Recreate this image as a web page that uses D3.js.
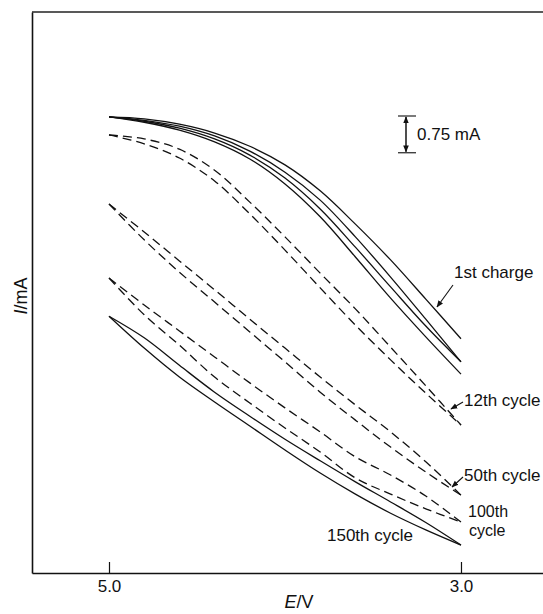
<!DOCTYPE html>
<html><head><meta charset="utf-8">
<script src="https://cdn.jsdelivr.net/npm/d3@7"></script>
<style>
body{margin:0;background:#fff}
svg{display:block}
text{font-family:"Liberation Sans",Arial,Helvetica,sans-serif;fill:#111}
</style>
</head><body>
<svg id="chart" width="543" height="614"></svg>
<script>
// ---- data (E in V, I in mA relative to an arbitrary baseline) ----
const potentials = [5.0, 4.8, 4.6, 4.4, 4.2, 4.0, 3.8, 3.6, 3.4, 3.2, 3.0];
const charge1Up   = [9.31, 9.27, 9.16, 8.98, 8.71, 8.33, 7.80, 7.12, 6.39, 5.59, 4.78];
const charge1Down = [9.31, 9.20, 9.04, 8.80, 8.45, 7.94, 7.27, 6.45, 5.61, 4.82, 4.06];
const cycle2Up    = [9.31, 9.24, 9.12, 8.92, 8.61, 8.18, 7.61, 6.86, 6.04, 5.18, 4.31];
const cycle2Down  = [9.31, 9.22, 9.08, 8.86, 8.53, 8.06, 7.43, 6.65, 5.84, 5.04, 4.31];
const cycle12Up   = [8.94, 8.86, 8.65, 8.22, 7.57, 6.86, 6.12, 5.39, 4.61, 3.82, 3.02];
const cycle12Down = [8.94, 8.76, 8.47, 8.00, 7.33, 6.59, 5.82, 5.06, 4.35, 3.67, 3.02];
const cycle50Up   = [7.53, 6.96, 6.37, 5.78, 5.18, 4.59, 4.00, 3.43, 2.88, 2.27, 1.59];
const cycle50Down = [7.53, 6.80, 6.14, 5.53, 4.92, 4.31, 3.69, 3.12, 2.57, 2.06, 1.59];
const cycle100Up  = [6.02, 5.47, 4.94, 4.41, 3.88, 3.37, 2.88, 2.37, 2.00, 1.57, 1.04];
const cycle100Down= [6.02, 5.27, 4.65, 4.00, 3.47, 2.96, 2.47, 1.94, 1.61, 1.31, 1.04];
const cycle150Up  = [5.24, 4.80, 4.24, 3.69, 3.20, 2.73, 2.29, 1.86, 1.45, 1.03, 0.57];
const cycle150Down= [5.24, 4.59, 4.00, 3.49, 3.00, 2.51, 2.04, 1.61, 1.22, 0.88, 0.57];
const tickValuesE = [5.0, 3.0];
const scaleBarmA  = 0.75;

const branches = [
  {v: charge1Up, dashed: false}, {v: charge1Down, dashed: false},
  {v: cycle2Up, dashed: false},  {v: cycle2Down, dashed: false},
  {v: cycle12Up, dashed: true},  {v: cycle12Down, dashed: true},
  {v: cycle50Up, dashed: true},  {v: cycle50Down, dashed: true},
  {v: cycle100Up, dashed: true}, {v: cycle100Down, dashed: true},
  {v: cycle150Up, dashed: false},{v: cycle150Down, dashed: false}
];

// ---- layout ----
const svg = d3.select("#chart");
const pLeft = 32, pRight = 543, pTop = 12, pBottom = 573;
const x = d3.scaleLinear().domain([5.4375, 2.534]).range([pLeft, pRight]);
const y = d3.scaleLinear().domain([0, 11.45]).range([pBottom, pTop]);

// frame
svg.append("line").attr("x1", pLeft).attr("x2", pRight).attr("y1", pTop).attr("y2", pTop)
  .attr("stroke", "#222").attr("stroke-width", 1.4);

const xAxis = d3.axisBottom(x).tickValues(tickValuesE).tickFormat(d3.format(".1f"))
  .tickSizeInner(-11).tickSizeOuter(0).tickPadding(7);
const gx = svg.append("g").attr("transform", `translate(0,${pBottom})`).call(xAxis);
gx.select(".domain").attr("stroke", "#111").attr("stroke-width", 1.6);
gx.selectAll(".tick line").attr("stroke", "#111").attr("stroke-width", 1.2);
gx.selectAll(".tick text").attr("font-size", 17).attr("fill", "#111")
  .style("font-family", '"Liberation Sans",Arial,sans-serif');

const yAxis = d3.axisLeft(y).tickValues([]).tickSizeOuter(0);
const gy = svg.append("g").attr("transform", `translate(${pLeft},0)`).call(yAxis);
gy.select(".domain").attr("stroke", "#111").attr("stroke-width", 1.6);

// axis titles
const xt = svg.append("text").attr("x", 299).attr("y", 608).attr("text-anchor", "middle").attr("font-size", 18);
xt.append("tspan").attr("font-style", "italic").text("E");
xt.append("tspan").text("/V");
const yt = svg.append("text").attr("transform", "translate(27,296) rotate(-90)")
  .attr("text-anchor", "middle").attr("font-size", 18);
yt.append("tspan").attr("font-style", "italic").text("I");
yt.append("tspan").text("/mA");

// curves
const line = d3.line()
  .x((d, i) => x(potentials[i]))
  .y(d => y(d))
  .curve(d3.curveCatmullRom.alpha(0.5));

svg.append("g").selectAll("path").data(branches).join("path")
  .attr("d", b => line(b.v))
  .attr("fill", "none")
  .attr("stroke", "#111")
  .attr("stroke-width", 1.3)
  .attr("stroke-dasharray", b => b.dashed ? "9,5" : null);

// arrow marker
const defs = svg.append("defs");
defs.append("marker").attr("id", "ah").attr("viewBox", "0 0 10 10")
  .attr("refX", 9).attr("refY", 5).attr("markerWidth", 7).attr("markerHeight", 7)
  .attr("orient", "auto-start-reverse").attr("markerUnits", "userSpaceOnUse")
  .append("path").attr("d", "M0,1 L10,5 L0,9 Z").attr("fill", "#111");

// scale bar
const barX = 406, barTop = 116;
const barLen = y(0) - y(scaleBarmA);
const sb = svg.append("g").attr("stroke", "#222");
sb.append("line").attr("x1", barX).attr("x2", barX).attr("y1", barTop + 1).attr("y2", barTop + barLen - 1)
  .attr("stroke-width", 1.6).attr("marker-start", "url(#ah)").attr("marker-end", "url(#ah)");
sb.append("line").attr("x1", barX - 8).attr("x2", barX + 10).attr("y1", barTop).attr("y2", barTop).attr("stroke-width", 1.2);
sb.append("line").attr("x1", barX - 8).attr("x2", barX + 10).attr("y1", barTop + barLen).attr("y2", barTop + barLen).attr("stroke-width", 1.2);
svg.append("text").attr("x", barX + 11).attr("y", barTop + 24).attr("font-size", 17).text("0.75 mA");

// labels
const labels = [
  {t: "1st charge", x: 454, y: 278, s: 17},
  {t: "12th cycle", x: 464, y: 406, s: 17},
  {t: "50th cycle", x: 464, y: 481, s: 17},
  {t: "100th", x: 468, y: 517, s: 16},
  {t: "cycle", x: 469, y: 536, s: 16},
  {t: "150th cycle", x: 327, y: 541, s: 17}
];
svg.append("g").selectAll("text").data(labels).join("text")
  .attr("x", d => d.x).attr("y", d => d.y)
  .attr("font-size", d => d.s).text(d => d.t);

const pointers = [
  {x1: 453, y1: 285, x2: 437, y2: 307},
  {x1: 463, y1: 402, x2: 451, y2: 409},
  {x1: 463, y1: 477, x2: 452, y2: 487}
];
svg.append("g").selectAll("line").data(pointers).join("line")
  .attr("x1", d => d.x1).attr("y1", d => d.y1).attr("x2", d => d.x2).attr("y2", d => d.y2)
  .attr("stroke", "#111").attr("stroke-width", 1.1).attr("marker-end", "url(#ah)");
</script>
</body></html>
